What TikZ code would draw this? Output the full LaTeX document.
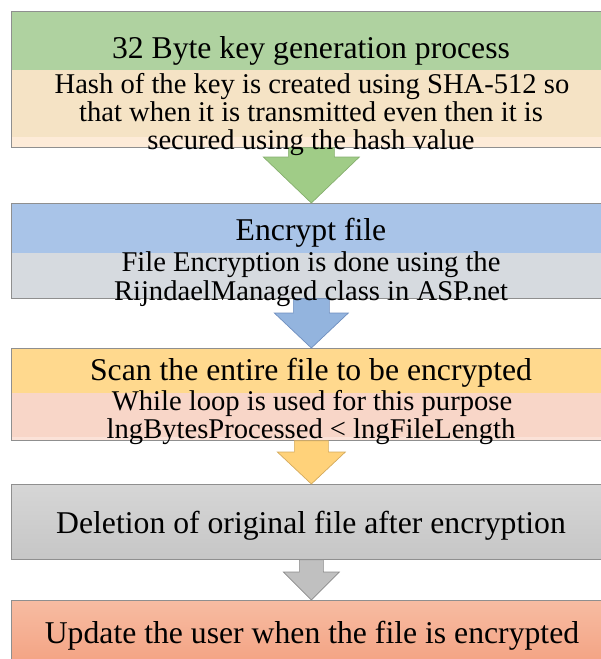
\documentclass[tikz,border=0pt]{standalone}
\usepackage{fontspec}
\setmainfont{Liberation Serif}
\usetikzlibrary{calc}
\definecolor{gAtop}{HTML}{AFD2A0}
\definecolor{gAbot}{HTML}{F5E3C5}
\definecolor{gAstrip}{HTML}{FDEBD8}
\definecolor{arrA}{HTML}{A0CC87}
\definecolor{arrAline}{HTML}{86AE6E}
\definecolor{gBtop}{HTML}{A9C4E8}
\definecolor{gBbot}{HTML}{D6DADF}
\definecolor{arrB}{HTML}{93B4DE}
\definecolor{arrBline}{HTML}{6F8FBF}
\definecolor{gCtop}{HTML}{FFD98E}
\definecolor{gCbot}{HTML}{F8D6C8}
\definecolor{gCstrip}{HTML}{FBE2D8}
\definecolor{arrC}{HTML}{FFD27A}
\definecolor{arrCline}{HTML}{D4AA5C}
\definecolor{gDtop}{HTML}{D6D6D6}
\definecolor{gDbot}{HTML}{C6C6C6}
\definecolor{arrD}{HTML}{C0C0C0}
\definecolor{arrDline}{HTML}{8A8A8A}
\definecolor{gEtop}{HTML}{F7BCA2}
\definecolor{gEbot}{HTML}{F3A080}
\definecolor{boxline}{HTML}{8F8F8F}
\newcommand\blkarrow[6]{%
  \draw[#6] let \p1=(#1.south), \p2=(#2.north) in
    ({\x2-#3pt},\y1) -- ({\x2+#3pt},\y1) -- ({\x2+#3pt},{\y2+#5pt})
    -- ({\x2+#4pt},{\y2+#5pt}) -- (\x2,\y2) -- ({\x2-#4pt},{\y2+#5pt})
    -- ({\x2-#3pt},{\y2+#5pt}) -- cycle;}
\begin{document}
\begin{tikzpicture}[x=1pt,y=-1pt,
  boxnode/.style={draw=boxline, line width=0.7pt, minimum width=600pt, inner sep=0pt, anchor=north west},
  ttl/.style={font=\fontsize{31.7}{34}\selectfont, anchor=base, inner sep=0pt},
  body/.style={font=\fontsize{28.6}{30}\selectfont, anchor=base, inner sep=0pt},
  arrline/.style={line width=0.7pt, line join=miter}]
\useasboundingbox (0,0) rectangle (601,659);
\clip (0,0) rectangle (601,659);
% box 1 bands
\fill[gAtop] (11,11) rectangle (615,70);
\fill[gAbot] (11,70) rectangle (615,137);
\fill[gAstrip] (11,137) rectangle (615,147);
\node[boxnode, minimum height=136pt] (b1) at (11,11) {};
% box 2 bands
\fill[gBtop] (11,203) rectangle (615,253);
\fill[gBbot] (11,253) rectangle (615,298);
\node[boxnode, minimum height=95pt] (b2) at (11,203) {};
% box 3 bands
\fill[gCtop] (11,348) rectangle (615,393);
\fill[gCbot] (11,393) rectangle (615,437);
\fill[gCstrip] (11,437) rectangle (615,440);
\node[boxnode, minimum height=92pt] (b3) at (11,348) {};
% box 4
\node[boxnode, minimum height=75pt, top color=gDtop, bottom color=gDbot] (b4) at (11,484) {};
% box 5
\node[boxnode, minimum height=70pt, top color=gEtop, bottom color=gEbot] (b5) at (11,600) {};
% block arrows
\blkarrow{b1}{b2}{23}{48}{46}{arrline, fill=arrA, draw=arrAline}
\blkarrow{b2}{b3}{18}{37}{35}{arrline, fill=arrB, draw=arrBline}
\blkarrow{b3}{b4}{17}{34}{32}{arrline, fill=arrC, draw=arrCline}
\blkarrow{b4}{b5}{12}{28}{28}{arrline, fill=arrD, draw=arrDline}
% texts
\node[ttl] (t1) at (311,58) {32 Byte key generation process};
\node[body] (t1a) at (312,93) {Hash of the key is created using SHA-512 so};
\node[body] (t1b) at (311,121) {that when it is transmitted even then it is};
\node[body] (t1c) at (311,149) {secured using the hash value};
\node[ttl] (t2) at (311,240) {Encrypt file};
\node[body] (t2a) at (311,271) {File Encryption is done using the};
\node[body] (t2b) at (311,300) {RijndaelManaged class in ASP.net};
\node[ttl] (t3) at (311,380) {Scan the entire file to be encrypted};
\node[body] (t3a) at (312,410) {While loop is used for this purpose};
\node[body] (t3b) at (311,438) {lngBytesProcessed < lngFileLength};
\node[ttl] (t4) at (311,533) {Deletion of original file after encryption};
\node[ttl] (t5) at (312,643) {Update the user when the file is encrypted};
\end{tikzpicture}
\end{document}
